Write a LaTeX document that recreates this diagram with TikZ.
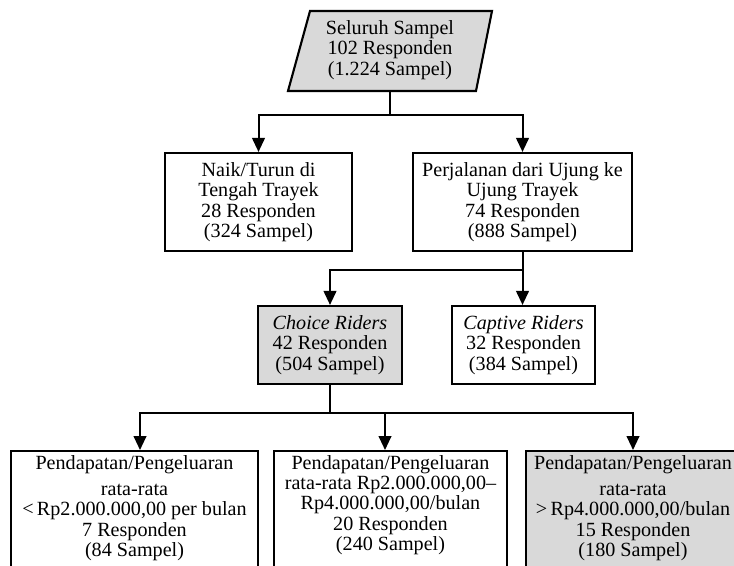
\documentclass[tikz,border=0pt]{standalone}
\usepackage{fontspec}
\setmainfont{Liberation Serif}
\usetikzlibrary{arrows.meta,calc,backgrounds}
\begin{document}
\begin{tikzpicture}[x=0.75pt,y=-0.75pt,
  font=\fontsize{15.1}{15.3}\selectfont,
  line width=1.5pt,
  box/.style={draw, line width=1.6pt, align=center, inner sep=2pt},
  shaded/.style={fill=gray!30},
  arr/.style={-{Triangle[length=10.5pt,width=9.5pt]}},
  lowbox/.style={draw, line width=1.6pt, anchor=north, inner xsep=0pt, inner ysep=3pt}
]
\useasboundingbox (0,0) rectangle (734,565);
\clip (0,0) rectangle (734,565);

% top parallelogram
\node[align=center, minimum width=120pt, minimum height=60pt, inner sep=0pt] (all) at (390,50)
  {Seluruh Sampel\\102 Responden\\(1.224 Sampel)};
\begin{scope}[on background layer]
  \draw[shaded, line width=1.6pt] ($(all)+(-80,-39)$) -- ($(all)+(102,-39)$) -- ($(all)+(86,41)$) -- ($(all)+(-102,41)$) -- cycle;
\end{scope}

% second level
\node[box, minimum width=140.25pt, minimum height=73.5pt] (naik) at (258.5,202)
  {Naik/Turun di\\Tengah Trayek\\28 Responden\\(324 Sampel)};
\node[box, minimum width=164.25pt, minimum height=73.5pt] (perj) at (522.5,202)
  {Perjalanan dari Ujung ke\\Ujung Trayek\\74 Responden\\(888 Sampel)};

% third level
\node[box, shaded, minimum width=108pt, minimum height=58.5pt] (choice) at (330,345)
  {\textit{Choice Riders}\\42 Responden\\(504 Sampel)};
\node[box, minimum width=107.25pt, minimum height=58.5pt] (captive) at (523.5,345)
  {\textit{Captive Riders}\\32 Responden\\(384 Sampel)};

% bottom level (cut by the picture edge)
\node[lowbox] (b1) at (134.5,450)
  {\parbox[c][130pt][t]{185.25pt}{\centering Pendapatan/Pengeluaran\\[4.5pt]rata-rata\\{<}\,Rp2.000.000,00 per bulan\\7 Responden\\(84 Sampel)}};
\node[lowbox] (b2) at (390.5,450)
  {\parbox[c][130pt][t]{174.75pt}{\centering Pendapatan/Pengeluaran\\rata-rata Rp2.000.000,00--\\Rp4.000.000,00/bulan\\20 Responden\\(240 Sampel)}};
\node[lowbox, shaded] (b3) at (633,450)
  {\parbox[c][130pt][t]{160.5pt}{\centering Pendapatan/Pengeluaran\\[4.5pt]rata-rata\\{>}\,Rp4.000.000,00/bulan\\15 Responden\\(180 Sampel)}};

% connectors
\draw (all.south) -- ++(0,24) coordinate (j1);
\draw[arr] (j1) -| (naik.north);
\draw[arr] (j1) -| (perj.north);

\draw (perj.south) -- ++(0,18) coordinate (j2);
\draw[arr] (j2) -| (choice.north);
\draw[arr] (j2) -- (captive.north -| j2);

\draw (choice.south) -- ++(0,28) coordinate (j3);
\draw[arr] (j3) -| ($(b1.north)+(5.5,0)$);
\draw[arr] (j3) -| ($(b2.north)+(-5.5,0)$);
\draw[arr] (j3) -| (b3.north);
\end{tikzpicture}
\end{document}
